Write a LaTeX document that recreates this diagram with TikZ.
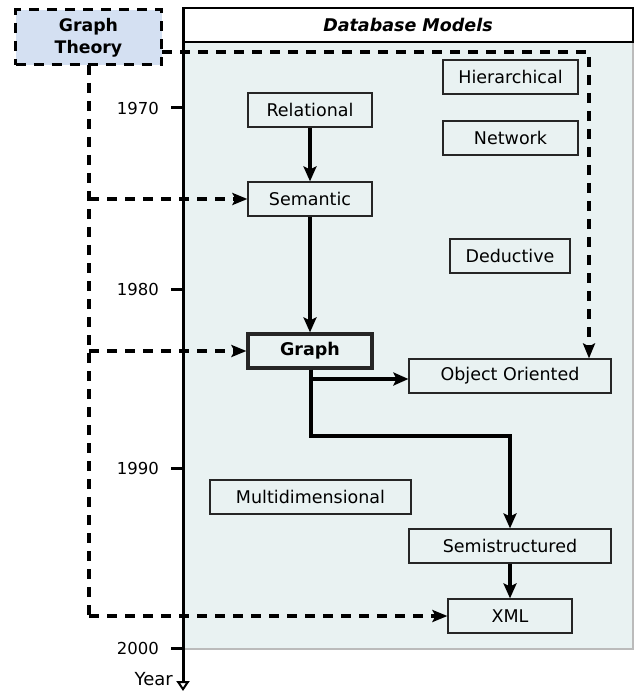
\documentclass[tikz,border=0pt]{standalone}
\usepackage{fontspec}
\setmainfont{DejaVu Sans}
\usetikzlibrary{arrows.meta,calc}
\definecolor{panelfill}{HTML}{E9F2F2}
\definecolor{gtfill}{HTML}{D4E0F2}
\definecolor{panelline}{HTML}{BBBBBB}
\begin{document}
\begin{tikzpicture}[x=1pt,y=-1pt,
  txt/.style={font=\fontsize{17.5}{21}\selectfont},
  model/.style={txt,draw=black!85,fill=panelfill,line width=1.2pt,minimum height=34pt,inner sep=0pt,anchor=center},
  flow/.style={line width=3.6pt,-{Stealth[length=15pt,width=13pt,inset=3pt]}},
  dsh/.style={line width=3.6pt,dash pattern=on 10pt off 8pt},
  dsharr/.style={dsh,-{Stealth[length=15pt,width=12pt,inset=3pt]}},
  tick/.style={line width=3pt},
  yearlbl/.style={font=\fontsize{16.5}{20}\selectfont,anchor=east,inner sep=0pt}]
\useasboundingbox (0,0) rectangle (634,692);
% panel
\fill[panelfill] (183,42) rectangle (633,649);
\draw[panelline,line width=1.5pt] (183,649) -- (633,649) -- (633,42);
\draw[fill=white,line width=1.5pt] (183,8) rectangle (633,42);
\node[font=\fontsize{17.5}{21}\selectfont\bfseries\itshape] (title) at (408,25) {Database Models};
% axis
\coordinate (axtop) at (183,8);
\coordinate (axbot) at (183,691);
\draw[line width=3pt,-{Triangle[open,length=10pt,width=13pt,line width=2pt]}] (axtop) -- (axbot);
\node[font=\fontsize{18}{21}\selectfont,anchor=east,inner sep=0pt] (yr) at (173,679) {Year};
\foreach \y/\t in {108/1970,289/1980,468/1990,648/2000}{
  \draw[tick] (171,\y) -- (183,\y);
  \node[yearlbl] (l\t) at (159,\y) {\t};
}
% graph theory
\node[draw,dsh,line width=3pt,fill=gtfill,minimum width=146pt,minimum height=55pt,inner sep=0pt,align=center,
  font=\fontsize{17.3}{22}\selectfont\bfseries] (gt) at (88.5,37.5) {Graph\\Theory};
% models
\node[model,minimum width=124pt] (rel) at (310,110) {Relational};
\node[model,minimum width=124pt] (sem) at (310,199) {Semantic};
\node[model,minimum width=135pt] (hier) at (510.5,77) {Hierarchical};
\node[model,minimum width=135pt] (net) at (510.5,138) {Network};
\node[model,minimum width=120pt] (ded) at (510,256) {Deductive};
\node[model,minimum width=124pt,line width=3.2pt,font=\fontsize{17.5}{21}\selectfont\bfseries] (gr) at (310,351) {Graph};
\node[model,minimum width=202pt] (oo) at (510,376) {Object Oriented};
\node[model,minimum width=201pt] (md) at (310.5,497) {Multidimensional};
\node[model,minimum width=202pt] (semi) at (510,546) {Semistructured};
\node[model,minimum width=124pt] (xml) at (510,616) {XML};
% dashed connectors from Graph Theory
\coordinate (gtr) at (162,52);
\coordinate (gtc) at (589,52);
\coordinate (gtl) at (89,65);
\coordinate (j1) at (89,199);
\coordinate (j2) at (89,351);
\coordinate (j3) at (89,616);
\draw[dsharr] (gtr) -- (gtc) -- (gtc |- oo.north);
\draw[dsh] (gtl) -- (j3);
\draw[dsharr] (j1) -- (sem.west);
\draw[dsharr] (j2) -- (gr.west);
\draw[dsharr] (j3) -- (xml.west);
% solid connectors
\draw[flow] (rel.south) -- (sem.north);
\draw[flow] (sem.south) -- (gr.north);
\coordinate (g1) at (311,379);
\coordinate (g2) at (311,436);
\draw[flow] (gr.south -| g1) -- (g1) -- (g1 -| oo.west);
\draw[flow] (gr.south -| g1) -- (g2) -| (semi.north);
\draw[flow] (semi.south) -- (xml.north);
\end{tikzpicture}
\end{document}
